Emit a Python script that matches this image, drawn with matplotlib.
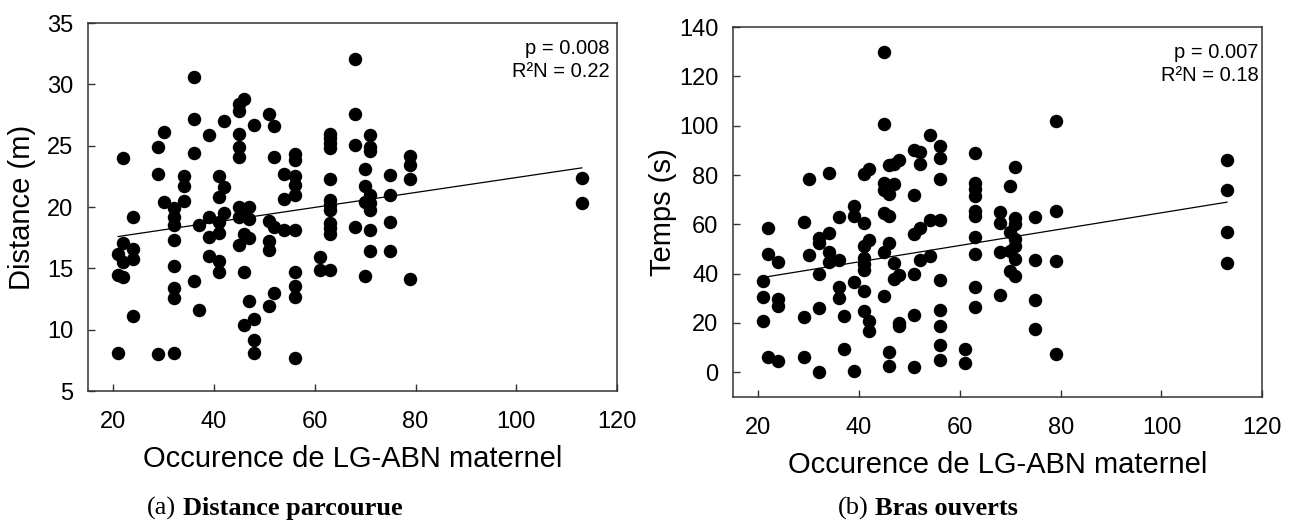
import numpy as np
import matplotlib
matplotlib.use("Agg")
import matplotlib.pyplot as plt

plt.rcParams['font.family'] = ['Liberation Sans', 'DejaVu Sans']

# panel (a): distance travelled vs maternal LG-ABN occurrence
dist_x = [21, 21, 21, 22, 22, 22, 22, 24, 24, 24, 24, 29, 29, 29, 30, 30,
          32, 32, 32, 32, 32, 32, 32, 32, 34, 34, 34, 36, 36, 36, 36, 37, 37,
          39, 39, 39, 39, 41, 41, 41, 41, 41, 41, 42, 42, 42,
          45, 45, 45, 45, 45, 45, 45, 45, 46, 46, 46, 46, 46, 47, 47, 47, 47,
          48, 48, 48, 48, 51, 51, 51, 51, 51, 52, 52, 52, 52, 54, 54, 54,
          56, 56, 56, 56, 56, 56, 56, 56, 56, 56, 61, 61,
          63, 63, 63, 63, 63, 63, 63, 63, 63, 63, 63, 63, 68, 68, 68, 68,
          70, 70, 70, 70, 71, 71, 71, 71, 71, 71, 71, 71, 75, 75, 75, 75,
          79, 79, 79, 79, 113, 113]
dist_y = [16.2, 14.5, 8.1, 24.0, 17.1, 15.5, 14.3, 19.2, 16.6, 15.8, 11.1,
          24.9, 22.7, 8.0, 26.1, 20.4,
          19.9, 19.2, 18.5, 17.3, 15.2, 13.4, 12.6, 8.1, 22.5, 21.7, 20.5,
          30.6, 27.2, 24.4, 14.0, 18.5, 11.6,
          25.9, 19.2, 17.6, 16.0, 22.5, 20.8, 18.8, 17.9, 15.6, 14.7,
          27.0, 21.6, 19.5,
          28.4, 27.8, 26.0, 24.9, 24.1, 20.0, 19.2, 16.9,
          28.8, 19.4, 17.8, 14.7, 10.4, 20.0, 19.0, 17.5, 12.3,
          26.7, 10.9, 9.2, 8.1, 27.6, 18.9, 17.2, 16.5, 11.9,
          26.6, 24.1, 18.4, 13.0, 22.7, 20.7, 18.1,
          24.3, 23.8, 22.5, 21.8, 21.0, 18.1, 14.7, 13.6, 12.7, 7.7, 15.9, 14.9,
          26.0, 25.6, 25.2, 24.8, 22.3, 20.6, 20.2, 19.8, 18.7, 18.3, 17.8, 14.9,
          32.1, 27.6, 25.1, 18.4,
          23.1, 21.7, 20.4, 14.4, 25.9, 24.9, 24.6, 21.0, 20.3, 19.8, 18.1, 16.4,
          22.6, 21.0, 18.8, 16.4, 24.2, 23.4, 22.3, 14.1, 22.4, 20.3]
dist_fit_x = [21, 113]
dist_fit_y = [17.6, 23.2]

# panel (b): time in open arms
arms_x = [21, 21, 21, 22, 22, 22, 24, 24, 24, 24, 29, 29, 29, 30, 30,
          32, 32, 32, 32, 32, 34, 34, 34, 34, 36, 36, 36, 36, 37, 37,
          39, 39, 39, 39, 41, 41, 41, 41, 41, 41, 41, 41, 42, 42, 42, 42,
          45, 45, 45, 45, 45, 45, 45, 46, 46, 46, 46, 46, 46, 46,
          47, 47, 47, 47, 48, 48, 48, 48, 51, 51, 51, 51, 51, 51,
          52, 52, 52, 52, 54, 54, 54, 56, 56, 56, 56, 56, 56, 56, 56, 56, 61, 61,
          63, 63, 63, 63, 63, 63, 63, 63, 63, 63, 68, 68, 68, 68,
          70, 70, 70, 70, 71, 71, 71, 71, 71, 71, 71, 75, 75, 75, 75,
          79, 79, 79, 79, 113, 113, 113, 113]
arms_y = [37.1, 30.6, 21.0, 58.5, 47.9, 6.1, 44.9, 29.7, 27.0, 4.7,
          61.0, 22.3, 6.2, 78.3, 47.7,
          54.4, 52.6, 40.0, 26.2, 0.0, 81.0, 56.3, 48.6, 44.7,
          63.0, 45.7, 34.4, 30.1, 23.0, 9.3,
          67.4, 63.5, 36.6, 0.5, 80.3, 60.7, 51.3, 46.3, 43.8, 41.3, 33.0, 25.0,
          82.4, 53.8, 20.7, 16.8,
          130.0, 100.5, 76.9, 74.0, 64.8, 48.7, 31.0,
          84.1, 75.2, 72.4, 63.2, 52.4, 8.1, 2.5,
          84.3, 76.2, 44.2, 37.9, 86.0, 39.5, 20.0, 18.7,
          90.3, 72.0, 56.2, 39.8, 23.2, 2.3,
          89.2, 84.3, 58.5, 45.7, 96.1, 61.6, 47.1,
          91.9, 86.7, 78.5, 61.9, 37.6, 25.4, 18.7, 10.9, 5.0, 9.4, 3.9,
          89.0, 76.7, 74.2, 71.5, 65.4, 63.2, 54.7, 47.9, 34.6, 26.4,
          64.9, 60.5, 48.6, 31.5,
          75.6, 56.7, 49.2, 41.1, 83.3, 62.7, 60.0, 54.0, 51.3, 45.9, 39.1,
          62.9, 45.5, 29.2, 17.5,
          101.7, 65.4, 45.3, 7.5, 86.0, 73.9, 56.9, 44.3]
arms_fit_x = [21, 113]
arms_fit_y = [38.5, 69.0]

xticks = [20, 40, 60, 80, 100, 120]
xlabel = "Occurence de LG-ABN maternel"

fig = plt.figure(figsize=(12.97, 5.24), dpi=100)
ax1 = fig.add_axes([0.0678, 0.2538, 0.408, 0.702])
ax2 = fig.add_axes([0.5652, 0.2424, 0.408, 0.706])


def panel(ax, x, y, fx, fy, ylim, yticks, ylabel, stats, tx, ypad):
    ax.plot(x, y, 'o', color='black', markersize=9.7, markeredgewidth=0)
    ax.plot(fx, fy, color='black', linewidth=0.9)
    ax.set_xlim(15, 120)
    ax.set_ylim(*ylim)
    ax.set_xticks(xticks)
    ax.set_yticks(yticks)
    ax.tick_params(direction='in', length=5, width=1.0, color='#333333',
                   labelsize=17)
    ax.tick_params(axis='x', pad=14.5)
    ax.tick_params(axis='y', pad=10.5)
    for s in ax.spines.values():
        s.set_color('#333333')
        s.set_linewidth(1.1)
    ax.set_xlabel(xlabel, fontsize=21, labelpad=8.5)
    ax.set_ylabel(ylabel, fontsize=21, labelpad=ypad)
    ax.text(tx, 0.957, stats, transform=ax.transAxes, ha='right', va='top',
            fontsize=14.5, linespacing=1.3)


panel(ax1, dist_x, dist_y, dist_fit_x, dist_fit_y, (5, 35),
      [5, 10, 15, 20, 25, 30, 35], "Distance (m)",
      "p = 0.008\nR\u00b2N = 0.22", 0.986, 8)
panel(ax2, arms_x, arms_y, arms_fit_x, arms_fit_y, (-10, 140),
      [0, 20, 40, 60, 80, 100, 120, 140], "Temps (s)",
      "p = 0.007\nR\u00b2N = 0.18", 0.993, 1.5)

serif = ['Liberation Serif', 'DejaVu Serif']
fig.text(0.1133, 0.018, "(a)", family=serif, fontsize=19, va='baseline')
fig.text(0.1411, 0.018, "Distance parcourue", family=serif, fontsize=19,
         weight='bold', va='baseline')
fig.text(0.646, 0.018, "(b)", family=serif, fontsize=19, va='baseline')
fig.text(0.6746, 0.018, "Bras ouverts", family=serif, fontsize=19,
         weight='bold', va='baseline')

fig.savefig("out.png", dpi=100)
